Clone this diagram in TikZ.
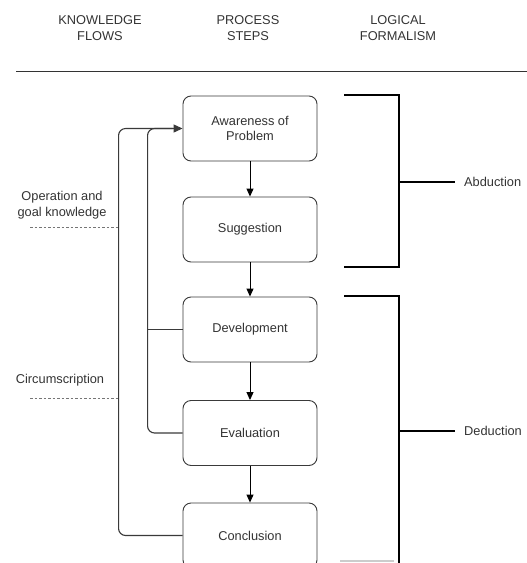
\documentclass[tikz,border=0pt]{standalone}
\usepackage{fontspec}
\setmainfont{Liberation Sans}
\usetikzlibrary{arrows.meta}
\definecolor{txt}{HTML}{333333}
\definecolor{edge}{HTML}{3a3a3a}
\tikzset{
  stepbox/.style={draw=edge, line width=0.9pt, rounded corners=8pt, minimum width=134pt, minimum height=65pt, align=center, text=txt, font=\fontsize{12.8}{15.5}\selectfont, fill=white},
  lbl/.style={align=center, text=txt, font=\fontsize{12.8}{15.5}\selectfont, inner sep=0pt},
  hdr/.style={align=center, text=txt, font=\fontsize{12.8}{16}\selectfont, inner sep=0pt},
  flow/.style={draw=edge, line width=1.1pt, rounded corners=7pt},
  brk/.style={draw=black, line width=2pt},
  dsh/.style={draw=edge!70, line width=0.8pt, dash pattern=on 2.5pt off 2pt},
}
\begin{document}
\begin{tikzpicture}[x=1pt,y=-1pt]
\useasboundingbox (0,0) rectangle (527,563);
\clip (0,0) rectangle (527,563);
% headers
\node[hdr] (h1) at (100,28) {KNOWLEDGE\\FLOWS};
\node[hdr] (h2) at (248,28) {PROCESS\\STEPS};
\node[hdr] (h3) at (398,28) {LOGICAL\\FORMALISM};
\coordinate (r1) at (16,71);
\coordinate (r2) at (527,71);
\draw[draw=txt, line width=1pt] (r1) -- (r2);
% steps
\node[stepbox] (s1) at (250,128.5) {Awareness of\\Problem};
\node[stepbox] (s2) at (250,229.5) {Suggestion};
\node[stepbox] (s3) at (250,329.5) {Development};
\node[stepbox] (s4) at (250,433) {Evaluation};
\node[stepbox] (s5) at (250,535.5) {Conclusion};
\foreach \a/\b in {s1/s2,s2/s3,s3/s4,s4/s5}
  \draw[draw=black, line width=1pt, -{Triangle[length=8pt,width=7pt]}] (\a) -- (\b);
% feedback flows
\draw[flow, -{Triangle[length=9pt,width=8pt]}] (s5.west) -- ++(-64,0) |- (s1.west);
\draw[flow] (s4.west) -- ++(-35,0) |- ([xshift=-10pt]s1.west);
\coordinate (j3) at (148,329.5);
\draw[draw=edge, line width=1.1pt] (s3.west) -- (j3);
% knowledge labels
\node[lbl] (k1) at (62,205) {Operation and\\goal knowledge};
\coordinate (d1a) at (30,227);
\coordinate (d1b) at (119,227);
\draw[dsh] (d1a) -- (d1b);
\node[lbl] (k2) at (60,380) {Circumscription};
\coordinate (d2a) at (30,398);
\coordinate (d2b) at (119,398);
\draw[dsh] (d2a) -- (d2b);
% abduction bracket
\coordinate (a1) at (344,95);
\coordinate (a2) at (399,95);
\coordinate (a3) at (399,267);
\coordinate (a4) at (344,267);
\coordinate (am) at (399,182);
\draw[brk] (a1) -- (a2) -- (a3) -- (a4);
\node[lbl, anchor=west] (ab) at (464,182) {Abduction};
\draw[brk] (am) -- ([xshift=-9pt]ab.west);
% deduction bracket
\coordinate (b1) at (344,296);
\coordinate (b2) at (399,296);
\coordinate (b3) at (399,570);
\coordinate (bm) at (399,431);
\draw[brk] (b1) -- (b2) -- (b3);
\node[lbl, anchor=west] (de) at (464,431) {Deduction};
\draw[brk] (bm) -- ([xshift=-9pt]de.west);
\coordinate (f1) at (340,561);
\coordinate (f2) at (394,561);
\draw[draw=black!20, line width=1.5pt] (f1) -- (f2);
\end{tikzpicture}
\end{document}
